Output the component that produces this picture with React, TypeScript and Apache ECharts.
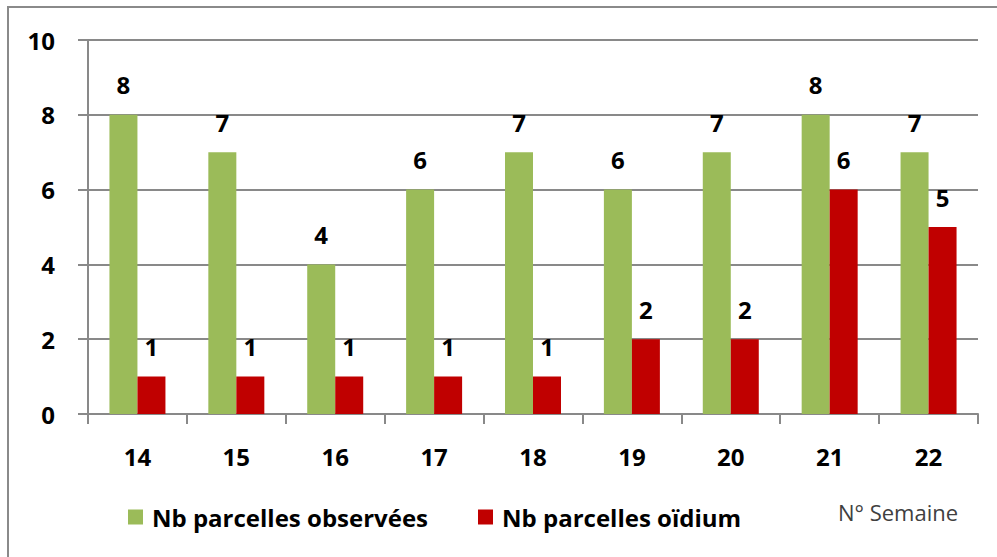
import React, { useEffect, useRef } from "react";
import * as echarts from "echarts";

const categories = ["14", "15", "16", "17", "18", "19", "20", "21", "22"];
const observed = [8, 7, 4, 6, 7, 6, 7, 8, 7];
const oidium = [1, 1, 1, 1, 1, 2, 2, 6, 5];
const seriesNames = ["Nb parcelles observées", "Nb parcelles oïdium"];
const axisTitle = "N° Semaine";

const FONT = "'Open Sans', sans-serif";

export default function App() {
  const ref = useRef<HTMLDivElement>(null);
  useEffect(() => {
    if (!ref.current) return;
    const chart = echarts.init(ref.current, undefined, { renderer: "svg" });
    const label = {
      show: true,
      position: "top" as const,
      distance: 18,
      fontSize: 24,
      fontWeight: "bold" as const,
      color: "#000",
      fontFamily: FONT,
    };
    chart.setOption({
      animation: false,
      backgroundColor: "#fff",
      grid: { left: 88, right: 19, top: 40, bottom: 143, containLabel: false },
      legend: {
        left: 123,
        top: 500,
        itemWidth: 15,
        itemHeight: 15,
        itemGap: 50,
        icon: "rect",
        textStyle: { fontSize: 24, fontWeight: "bold", color: "#000", fontFamily: FONT, padding: [0, 0, 0, 4] },
        data: seriesNames,
      },
      xAxis: {
        type: "category",
        data: categories,
        axisLine: { lineStyle: { color: "#898989", width: 2 } },
        axisTick: { show: true, length: 10, lineStyle: { color: "#898989", width: 2 } },
        axisLabel: { margin: 30, fontSize: 24, fontWeight: "bold", color: "#000", fontFamily: FONT },
        splitLine: { show: false },
      },
      yAxis: {
        type: "value",
        min: 0,
        max: 10,
        interval: 2,
        axisLine: { show: true, lineStyle: { color: "#898989", width: 2 } },
        axisTick: { show: true, length: 10, lineStyle: { color: "#898989", width: 2 } },
        axisLabel: { margin: 33, fontSize: 24, fontWeight: "bold", color: "#000", fontFamily: FONT },
        splitLine: { show: true, lineStyle: { color: "#898989", width: 2 } },
      },
      series: [
        {
          name: seriesNames[0],
          type: "bar",
          data: observed,
          barWidth: 28,
          barGap: "0%",
          itemStyle: { color: "#9BBB59" },
          label,
        },
        {
          name: seriesNames[1],
          type: "bar",
          data: oidium,
          barWidth: 28,
          barGap: "0%",
          itemStyle: { color: "#C00000" },
          label,
        },
      ],
      graphic: [
        {
          type: "rect",
          shape: { x: 8, y: 7, width: 1200, height: 800 },
          style: { fill: "none", stroke: "#8a8a8a", lineWidth: 2 },
          silent: true,
        },
        {
          type: "text",
          x: 838,
          y: 512,
          style: {
            text: axisTitle,
            fontSize: 22,
            fontFamily: FONT,
            fill: "#404040",
            verticalAlign: "middle",
          },
        },
      ],
    });
    return () => chart.dispose();
  }, []);
  return <div ref={ref} style={{ width: 997, height: 557, position: "absolute", left: 0, top: 0 }} />;
}
